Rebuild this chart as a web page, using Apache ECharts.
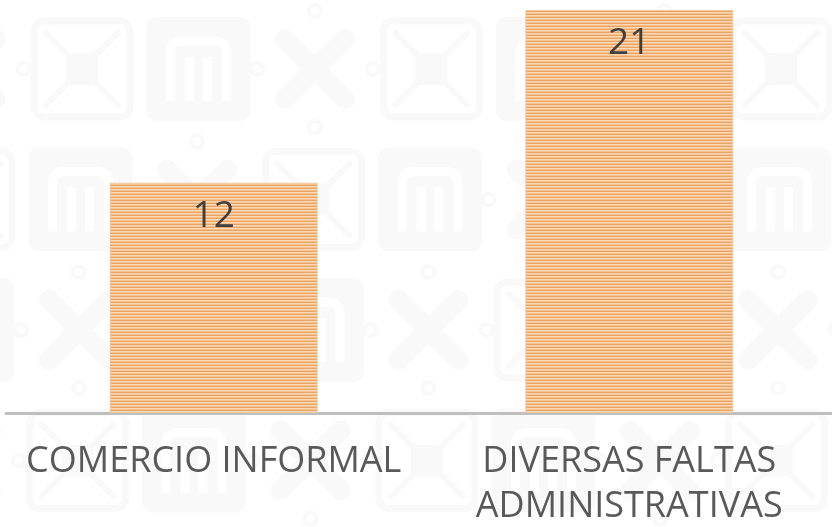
<!DOCTYPE html>
<html>
<head>
<meta charset="utf-8">
<script src="https://cdn.jsdelivr.net/npm/echarts@6/dist/echarts.min.js"></script>
<style>
  html, body { margin: 0; padding: 0; background: #ffffff; }
  #wrap { position: relative; width: 832px; height: 527px; }
  #bg, #chart { position: absolute; left: 0; top: 0; width: 832px; height: 527px; }
</style>
</head>
<body>
<div id="wrap">
  <canvas id="bg" width="832" height="527"></canvas>
  <div id="chart"></div>
</div>
<script>
// Faltas registradas por tipo
const categories = ['COMERCIO INFORMAL', 'DIVERSAS FALTAS\nADMINISTRATIVAS'];
const values = [12, 21];

// Faint tiled emblem backdrop behind the chart
(function drawBackdrop() {
  const ctx = document.getElementById('bg').getContext('2d');
  const ink = '#f9f9f9';
  const S = 104;
  function rrect(x, y, w, h, r) {
    ctx.beginPath();
    ctx.moveTo(x + r, y);
    ctx.arcTo(x + w, y, x + w, y + h, r);
    ctx.arcTo(x + w, y + h, x, y + h, r);
    ctx.arcTo(x, y + h, x, y, r);
    ctx.arcTo(x, y, x + w, y, r);
    ctx.closePath();
  }
  function mSquare(x, y) {
    ctx.fillStyle = ink;
    rrect(x, y, S, S, 10); ctx.fill();
    ctx.strokeStyle = '#ffffff'; ctx.lineWidth = 9; ctx.lineCap = 'butt';
    ctx.beginPath();
    ctx.moveTo(x + 24, y + 84); ctx.lineTo(x + 24, y + 36);
    ctx.quadraticCurveTo(x + 24, y + 24, x + 36, y + 24);
    ctx.lineTo(x + 68, y + 24);
    ctx.quadraticCurveTo(x + 80, y + 24, x + 80, y + 36);
    ctx.lineTo(x + 80, y + 84);
    ctx.moveTo(x + 43, y + 40); ctx.lineTo(x + 43, y + 84);
    ctx.moveTo(x + 61, y + 40); ctx.lineTo(x + 61, y + 84);
    ctx.stroke();
  }
  function xShape(x, y) {
    ctx.strokeStyle = ink; ctx.lineWidth = 20; ctx.lineCap = 'round';
    ctx.beginPath();
    ctx.moveTo(x + 22, y + 22); ctx.lineTo(x + 82, y + 82);
    ctx.moveTo(x + 82, y + 22); ctx.lineTo(x + 22, y + 82);
    ctx.stroke();
    ctx.lineWidth = 4;
    [[52, -6], [52, 110], [-6, 52], [110, 52]].forEach(([cx, cy]) => {
      ctx.beginPath(); ctx.arc(x + cx, y + cy, 6, 0, Math.PI * 2); ctx.stroke();
    });
  }
  function ornament(x, y) {
    ctx.strokeStyle = ink; ctx.lineCap = 'butt';
    ctx.lineWidth = 7;
    rrect(x + 4, y + 4, S - 8, S - 8, 10); ctx.stroke();
    ctx.lineWidth = 6;
    ctx.beginPath();
    ctx.moveTo(x + 14, y + 14); ctx.lineTo(x + 90, y + 90);
    ctx.moveTo(x + 90, y + 14); ctx.lineTo(x + 14, y + 90);
    ctx.stroke();
    ctx.fillStyle = ink;
    rrect(x + 36, y + 36, 32, 32, 4); ctx.fill();
  }
  const motifs = [ornament, mSquare, xShape];
  for (let r = 0; r < 4; r++) {
    for (let c = -1; c < 12; c++) {
      const x = 30 + c * 116.5 - r * 118;
      const y = 17 + r * 130.5;
      if (x < -S || x > 832) continue;
      motifs[((c % 3) + 3) % 3](x, y);
    }
  }
})();

// Horizontal stripe fill for the bars
function stripePattern() {
  const c = document.createElement('canvas');
  c.width = 8; c.height = 3;
  const ctx = c.getContext('2d');
  const rows = ['#fbd8b2', '#f5c28e', '#e6a468'];
  rows.forEach((col, i) => { ctx.fillStyle = col; ctx.fillRect(0, i, 8, 1); });
  return c;
}

const chart = echarts.init(document.getElementById('chart'), null, { renderer: 'canvas' });
chart.setOption({
  backgroundColor: 'transparent',
  animation: false,
  grid: { left: 6, right: -5, top: 10, bottom: 114, containLabel: false, outerBoundsMode: 'none' },
  xAxis: {
    type: 'category',
    data: categories,
    axisLine: { show: true, lineStyle: { color: '#bfbfbf', width: 3 } },
    axisTick: { show: false },
    axisLabel: {
      margin: 26,
      color: '#595959',
      fontFamily: 'Open Sans',
      fontSize: 36,
      lineHeight: 45,
      interval: 0
    }
  },
  yAxis: {
    type: 'value',
    min: 0,
    max: 21,
    show: false,
    splitLine: { show: false }
  },
  series: [{
    type: 'bar',
    data: values,
    barWidth: '50%',
    itemStyle: {
      color: { image: stripePattern(), repeat: 'repeat' },
      borderColor: '#f0c69c',
      borderWidth: 1
    },
    label: {
      show: true,
      position: 'insideTop',
      distance: 15,
      color: '#404040',
      fontFamily: 'Open Sans',
      fontSize: 37
    }
  }]
});
</script>
</body>
</html>
